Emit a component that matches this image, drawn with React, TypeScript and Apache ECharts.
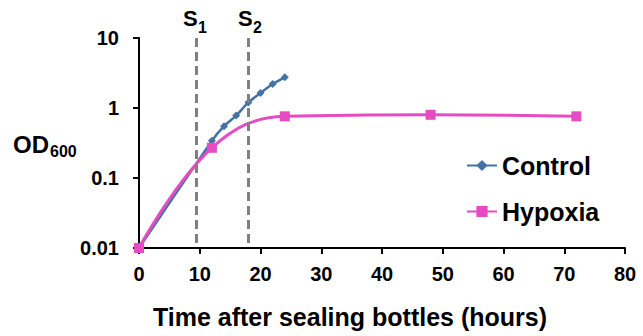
import React, { useEffect, useRef } from "react";
import * as echarts from "echarts";

const controlHours = [0, 12, 14, 16, 18, 20, 22, 24];
const controlOD = [0.01, 0.34, 0.55, 0.78, 1.2, 1.64, 2.2, 2.74];
const hypoxiaHours = [0, 12, 24, 48, 72];
const hypoxiaOD = [0.01, 0.27, 0.76, 0.8, 0.76];
const yTickLabels = ["0.01", "0.1", "1", "10"];
const samplingHours = [9.5, 18];
const samplingLabels = ["1", "2"];

const FONT = "'Liberation Sans', Arial, sans-serif";

export default function App() {
  const ref = useRef<HTMLDivElement>(null);
  useEffect(() => {
    if (!ref.current) return;
    const chart = echarts.init(ref.current, null, { renderer: "svg" });
    const markLineData = samplingHours.map((h) => [
      { coord: [h, 10] },
      { coord: [h, 0.01] },
    ]);
    const sLabels: any[] = [];
    const sX = [183, 238];
    samplingLabels.forEach((n, i) => {
      sLabels.push({
        type: "text",
        left: sX[i],
        top: 7,
        style: { text: "S", font: `bold 22px ${FONT}`, fill: "#000" },
      });
      sLabels.push({
        type: "text",
        left: sX[i] + 15,
        top: 19,
        style: { text: n, font: `bold 16px ${FONT}`, fill: "#000" },
      });
    });
    chart.setOption({
      animation: false,
      textStyle: { fontFamily: FONT },
      grid: { left: 139, right: 18, top: 38, bottom: 88, containLabel: false },
      legend: {
        orient: "vertical",
        left: 461,
        top: 148,
        itemWidth: 30,
        itemHeight: 14,
        itemGap: 21,
        textStyle: {
          fontSize: 25,
          fontWeight: "bold",
          color: "#000",
          fontFamily: FONT,
          lineHeight: 25,
        },
        data: ["Control", "Hypoxia"],
      },
      xAxis: {
        type: "value",
        min: 0,
        max: 80,
        interval: 10,
        axisLine: { show: true, lineStyle: { color: "#000", width: 2 } },
        axisTick: { show: true, inside: false, length: 6, lineStyle: { color: "#000", width: 2 } },
        axisLabel: {
          fontSize: 20,
          fontWeight: "bold",
          color: "#000",
          margin: 16,
          fontFamily: FONT,
        },
        splitLine: { show: false },
      },
      yAxis: {
        type: "log",
        logBase: 10,
        min: 0.01,
        max: 10,
        axisLine: { show: true, lineStyle: { color: "#000", width: 2 } },
        axisTick: { show: true, inside: false, length: 6, lineStyle: { color: "#000", width: 2 } },
        minorTick: { show: false },
        axisLabel: {
          fontSize: 20,
          fontWeight: "bold",
          color: "#000",
          margin: 20,
          fontFamily: FONT,
          formatter: (_v: number, i: number) => yTickLabels[i] ?? "",
        },
        splitLine: { show: false },
      },
      series: [
        {
          name: "Control",
          type: "line",
          data: controlHours.map((h, i) => [h, controlOD[i]]),
          smooth: 0.2,
          symbol: "diamond",
          symbolSize: 8,
          lineStyle: { color: "#4472A4", width: 2.5 },
          itemStyle: { color: "#4472A4" },
          z: 2,
          markLine: {
            silent: true,
            symbol: ["none", "none"],
            label: { show: false },
            lineStyle: { color: "#808080", width: 3, type: [9, 5] },
            data: markLineData,
          },
        },
        {
          name: "Hypoxia",
          type: "line",
          data: hypoxiaHours.map((h, i) => [h, hypoxiaOD[i]]),
          smooth: 0.4,
          symbol: "rect",
          symbolSize: 10,
          lineStyle: { color: "#E64BC3", width: 3 },
          itemStyle: { color: "#E64BC3" },
          z: 3,
        },
      ],
      graphic: [
        {
          type: "text",
          left: 13,
          top: 132,
          style: { text: "OD", font: `bold 24px ${FONT}`, fill: "#000" },
        },
        {
          type: "text",
          left: 50,
          top: 143,
          style: { text: "600", font: `bold 16px ${FONT}`, fill: "#000" },
        },
        {
          type: "text",
          x: 350,
          y: 317,
          style: {
            text: "Time after sealing bottles (hours)",
            font: `bold 25px ${FONT}`,
            fill: "#000",
            align: "center",
            verticalAlign: "middle",
          },
        },
        ...sLabels,
      ],
    });
    return () => chart.dispose();
  }, []);
  return (
    <div
      ref={ref}
      style={{ position: "fixed", left: 0, top: 0, width: 643, height: 336, background: "#fff" }}
    />
  );
}
